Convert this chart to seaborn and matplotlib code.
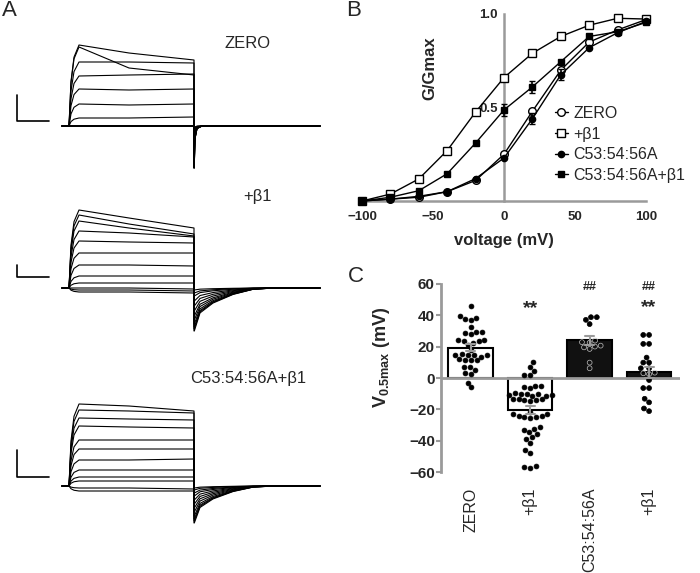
import numpy as np
import pandas as pd
import matplotlib
matplotlib.use('Agg')
import matplotlib.pyplot as plt
import seaborn as sns

sns.set_style('white')
plt.rcParams['font.family'] = ['Liberation Sans', 'DejaVu Sans']
plt.rcParams['mathtext.fontset'] = 'custom'
plt.rcParams['mathtext.rm'] = 'Liberation Sans'
plt.rcParams['mathtext.bf'] = 'Liberation Sans:bold'

GREY = '#9a9a9a'

# ---------------- panel A : current traces (a.u.)
trace_names = ['ZERO', '+β1', 'C53:54:56A+β1']
# level of each sweep early in the step, in the middle and at the end of the step
zero_peak = [0, 0, 0, 0, 0, 8, 22, 37, 50, 64, 79, 81]
zero_mid = [0, 0, 0, 0, 0, 8, 21, 36, 51, 64, 58, 73]
zero_end = [0, 0, 0, 0, 0, 9, 22, 37, 52, 63, 51, 66]
zero_tail = [-3, -5, -8, -12, -18, -25, -32, -37, -40, -42, -42, -42]

b1_peak = [-4, -2, 0, 5, 12, 23, 35, 47, 57, 67, 73, 78]
b1_mid = [-4, -2, 0, 5, 12, 23, 35, 46, 55, 60, 64, 70]
b1_end = [-5, -3, -1, 5, 12, 22, 35, 45, 51, 52, 54, 60]
b1_tail = [-2, -5, -8, -13, -18, -23, -28, -32, -36, -39, -41, -43]

cb1_peak = [-5, -2, 5, 9, 16, 26, 37, 46, 60, 68, 76, 82]
cb1_mid = [-5, -2, 5, 9, 16, 26, 37, 46, 59, 67, 75, 80]
cb1_end = [-5, -3, 5, 9, 16, 27, 37, 46, 58, 66, 73, 75]
cb1_tail = [-2, -4, -7, -10, -14, -18, -22, -26, -30, -33, -35, -37]

# time course shapes (ms)
act_t = [0, 2, 5, 10]
act_f = [0, 0.55, 0.85, 1.0]
step_end = 125
fast_tail_t = [0.2, 1.0, 3, 8]
fast_tail_f = [1, 0.3, 0.06, 0]
slow_tail_t = [0.3, 6, 19, 39, 59, 80]
slow_tail_f = [1, 0.58, 0.35, 0.15, 0.03, 0]
rec_start, rec_end = -7, 251

scale_bar_h = [26, 12, 27]
scale_bar_y0 = [5, 11, 8.7]

# ---------------- panel B : G/Gmax
volt = [-100, -80, -60, -40, -20, 0, 20, 40, 60, 80, 100]
g_zero = [0.0, 0.01, 0.02, 0.05, 0.11, 0.25, 0.48, 0.70, 0.85, 0.915, 0.97]
g_b1 = [0.0, 0.037, 0.118, 0.27, 0.476, 0.66, 0.79, 0.88, 0.94, 0.977, 0.973]
g_c53 = [0.0, 0.01, 0.025, 0.05, 0.12, 0.23, 0.44, 0.675, 0.82, 0.90, 0.96]
g_c53b1 = [0.0, 0.02, 0.055, 0.146, 0.31, 0.487, 0.61, 0.745, 0.88, 0.905, 0.955]
err_c53 = [0, 0, 0, 0, 0, 0, 0.03, 0.03, 0, 0, 0]
err_c53b1 = [0, 0, 0, 0, 0, 0.03, 0.03, 0, 0, 0, 0]

# ---------------- panel C : V0.5max per cell
v_zero = [46, 39.7, 38, 37, 37.5, 32.3, 29.2, 28.5, 29.2, 28.3, 24, 24, 23.5, 23.5,
          22, 21, 18, 14.7, 14.7, 14.7, 15, 14.7, 13.5, 11.5, 11.5, 11.5, 12, 7, 7,
          5, 3, 2.5, -3, -6]
v_b1 = [10.2, 7.2, 4.7, 1.9, 1.9, -6.6, -5.9, -5.1, -5.1, -10.2, -10.4, -11, -11,
        -11.5, -11.3, -10.4, -9.6, -13.4, -13.6, -14.2, -13.6, -14, -14.6, -21.4,
        -23, -24, -25, -25, -25.5, -24.2, -23.1, -31.4, -33.1, -32.7, -34.6, -37.8,
        -35.9, -39, -41.2, -45.9, -47.6, -56, -57, -56.7]
v_c53 = [38.7, 37, 34.3, 38.7, 23.8, 22.5, 20, 18.5, 20.6, 22.8, 19.5, 9.8, 6.2]
v_c53b1 = [27.4, 27.4, 21.7, 21.7, 13, 9.8, 9.8, 6.2, 6.2, 3.4, 3.0, 2.5, -1.3,
           -6.4, -6.4, -13.2, -15.5, -19.4, -21.1]
groups_c = ['ZERO', '+β1', 'C53:54:56A', 'C53:54:56A+β1']
ticklabels_c = ['ZERO', '+β1', 'C53:54:56A', '+β1']
bar_colors = ['white', 'white', '#111111', '#111111']

fig = plt.figure(figsize=(7, 5.73), dpi=100)
W, H = 700, 573


def px_axes(x0, y0, x1, y1):
    return fig.add_axes([x0 / W, 1 - y1 / H, (x1 - x0) / W, (y1 - y0) / H])


# ---------- panel A
trace_sets = [
    (zero_peak, zero_mid, zero_end, zero_tail, fast_tail_t, fast_tail_f),
    (b1_peak, b1_mid, b1_end, b1_tail, slow_tail_t, slow_tail_f),
    (cb1_peak, cb1_mid, cb1_end, cb1_tail, slow_tail_t, slow_tail_f),
]
boxes = [(10, 30, 330, 175, 126), (10, 200, 330, 340, 288), (10, 395, 330, 535, 486)]
label_pos = [(179, 82), (189, 91), (179, 108)]

for k, (pk, md, en, tl, tt, tf) in enumerate(trace_sets):
    x0, y0, x1, y1, base = boxes[k]
    ax = px_axes(x0, y0, x1, y1)
    rows = []
    for s in range(len(pk)):
        ts = [rec_start] + act_t + [60, step_end, step_end]
        vs = [0] + [f * pk[s] for f in act_f] + [md[s], en[s], tl[s]]
        ts += [step_end + d for d in tt] + [rec_end]
        vs += [f * tl[s] for f in tf] + [0]
        rows += [dict(sweep=s, t=a, I=b) for a, b in zip(ts, vs)]
    df = pd.DataFrame(rows)
    sns.lineplot(data=df, x='t', y='I', units='sweep', estimator=None, sort=False,
                 color='black', lw=0.8, ax=ax)
    ax.set_xlim(-59, 261)
    ax.set_ylim(-(y1 - base), base - y0)
    # scale bar
    ax.plot([-52, -52, -20], [scale_bar_y0[k] + scale_bar_h[k], scale_bar_y0[k], scale_bar_y0[k]],
            color='black', lw=1.2)
    ax.text(label_pos[k][0], label_pos[k][1], trace_names[k], ha='center', va='center',
            fontsize=12)
    ax.axis('off')

# ---------- panel B
axB = px_axes(362, 14, 646, 201)
series_b = [
    ('ZERO', g_zero, None, 'o', 'white', 5.5),
    ('+β1', g_b1, None, 's', 'white', 5.5),
    ('C53:54:56A', g_c53, err_c53, 'o', 'black', 4.5),
    ('C53:54:56A+β1', g_c53b1, err_c53b1, 's', 'black', 4.5),
]
for name, g, e, m, fc, ms in series_b:
    sns.lineplot(x=volt, y=g, marker=m, markersize=ms, markerfacecolor=fc,
                 markeredgecolor='black', markeredgewidth=1, color='black', lw=1,
                 label=name, ax=axB, clip_on=False, zorder=3)
    if e is not None:
        axB.errorbar(volt, g, yerr=e, fmt='none', ecolor='black', elinewidth=1.2,
                     capsize=2.5, zorder=3)
axB.set_xlim(-100, 100)
axB.set_ylim(0, 1.0)
axB.spines['left'].set_position(('data', 0))
for sp in ['right', 'top']:
    axB.spines[sp].set_visible(False)
for sp in ['left', 'bottom']:
    axB.spines[sp].set_color(GREY)
    axB.spines[sp].set_linewidth(1.8)
    axB.spines[sp].set_zorder(1)
axB.set_xticks([-100, -50, 0, 50, 100])
axB.set_yticks([0.5, 1.0])
axB.set_yticklabels(['0.5', '1.0'])
axB.tick_params(axis='both', color=GREY, width=1.5, labelsize=9.5, direction='out')
axB.tick_params(axis='y', length=3, pad=1.5)
axB.tick_params(axis='x', length=4, pad=3)
for lab in axB.get_xticklabels() + axB.get_yticklabels():
    lab.set_fontweight('bold')
axB.set_xlabel('voltage (mV)', fontsize=12, fontweight='bold')
axB.xaxis.set_label_coords(0.5, -(240 - 201) / 187)
axB.xaxis.label.set_va('center')
axB.set_ylabel('G/Gmax', fontsize=12, fontweight='bold')
axB.yaxis.set_label_coords((430 - 362) / 284, (201 - 68) / 187)
axB.yaxis.label.set_va('center')
axB.legend(loc='upper left', bbox_to_anchor=(555 / W, 1 - 106 / H),
           bbox_transform=fig.transFigure, frameon=False, fontsize=11.5,
           handlelength=0.8, handletextpad=0.35, labelspacing=0.35,
           borderpad=0, borderaxespad=0)

# ---------- panel C
axC = px_axes(441, 283.7, 680, 472.3)
dfC = pd.DataFrame({
    'group': ['ZERO'] * len(v_zero) + ['+β1'] * len(v_b1)
             + ['C53:54:56A'] * len(v_c53) + ['C53:54:56A+β1'] * len(v_c53b1),
    'v': v_zero + v_b1 + v_c53 + v_c53b1,
})
sns.barplot(data=dfC, x='group', y='v', order=groups_c, hue='group', hue_order=groups_c,
            palette=dict(zip(groups_c, bar_colors)), edgecolor='black', linewidth=1.5,
            errorbar='se', capsize=0.15, width=0.75, legend=False, ax=axC,
            err_kws={'color': GREY, 'linewidth': 1.5, 'zorder': 5})
n_before = len(axC.collections)
sns.swarmplot(data=dfC, x='group', y='v', order=groups_c, color='black', size=3.5,
              linewidth=0.5, edgecolor='black', ax=axC, zorder=4)
means = dfC.groupby('group')['v'].mean()
for coll, grp in zip(axC.collections[n_before:], groups_c):
    if grp not in ('C53:54:56A', 'C53:54:56A+β1'):
        continue
    y = coll.get_offsets()[:, 1]
    inside = (y > 0) & (y < means[grp])
    coll.set_facecolors([(0, 0, 0, 0) if i else 'black' for i in inside])
    coll.set_edgecolors(['#c0c0c0' if i else 'black' for i in inside])
axC.axhline(0, color=GREY, lw=2, zorder=2)
axC.set_xlim(-0.5, 3.52)
axC.set_ylim(-60, 60)
axC.set_yticks([-60, -40, -20, 0, 20, 40, 60])
for sp in ['right', 'top', 'bottom']:
    axC.spines[sp].set_visible(False)
axC.spines['left'].set_color(GREY)
axC.spines['left'].set_linewidth(2)
axC.tick_params(axis='y', color=GREY, width=1.5, length=3.5, pad=1, labelsize=11,
                left=True)
for lab in axC.get_yticklabels():
    lab.set_fontweight('bold')
axC.set_xticks(range(4))
axC.set_xticklabels(ticklabels_c, rotation=90, fontsize=11.5)
axC.tick_params(axis='x', length=0, pad=11)
axC.set_xlabel('')
axC.set_ylabel(r'$\mathbf{V_{0.5max}}$ (mV)', fontsize=13, fontweight='bold')
axC.yaxis.set_label_coords((381 - 441) / 239, (472.3 - 357) / 188.6)
axC.yaxis.label.set_va('center')
axC.text(1, 44, '**', ha='center', va='center', fontsize=14, fontweight='bold')
axC.text(3, 45, '**', ha='center', va='center', fontsize=14, fontweight='bold')
axC.text(2, 58, '##', ha='center', va='center', fontsize=9, fontweight='bold')
axC.text(3, 58, '##', ha='center', va='center', fontsize=9, fontweight='bold')

# panel letters
for letter, (x, y) in zip('ABC', [(9.5, 11), (354, 11), (356, 276)]):
    fig.text(x / W, 1 - y / H, letter, ha='center', va='center', fontsize=16)

fig.savefig('out.png', dpi=100)
